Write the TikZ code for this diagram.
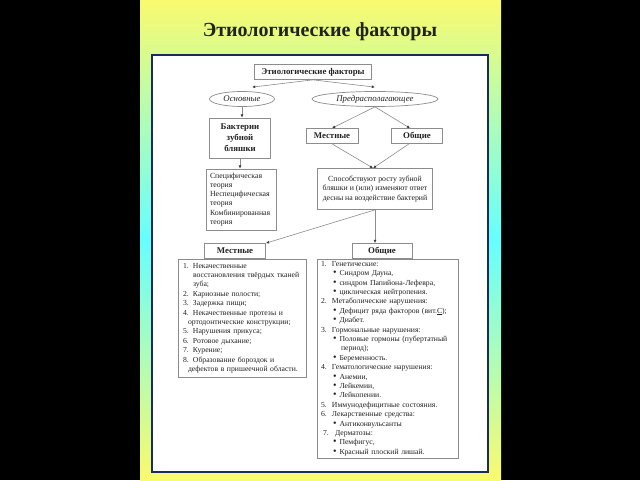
\documentclass[tikz,border=0pt]{standalone}
\usepackage{fontspec}
\setmainfont{Liberation Serif}
\definecolor{FrameNavy}{HTML}{1C2B5E}
\definecolor{PanelYellow}{HTML}{FAFA6E}
\definecolor{PanelCyan}{HTML}{66FFFF}
\definecolor{BoxGray}{HTML}{8C8C8C}
\definecolor{TipGray}{HTML}{3A3A3A}
\definecolor{InkGray}{HTML}{222222}
\usetikzlibrary{arrows.meta, shapes.geometric}
\newcommand{\numitem}[3][10pt]{\makebox[#1][l]{#2}#3}
\newcommand{\numcont}[2][10pt]{\hspace*{#1}#2}
\newcommand{\bulitem}[1]{\hspace*{12pt}\makebox[6.5pt][l]{\fontsize{10}{9.4}\selectfont\textbullet}#1}
\tikzset{
  box/.style={draw=BoxGray, line width=0.7pt, fill=white, text=InkGray, align=center, inner sep=1pt, font=\fontsize{8.8}{11}\selectfont\bfseries},
  ovalbox/.style={ellipse, draw=BoxGray, line width=0.7pt, fill=white, text=InkGray, inner sep=0pt, font=\fontsize{8.8}{10}\selectfont\itshape},
  textbox/.style={draw=BoxGray, line width=0.7pt, fill=white, text=InkGray, inner sep=1pt, font=\fontsize{7.8}{9.1}\selectfont},
  listbox/.style={draw=BoxGray, line width=0.7pt, fill=white, text=InkGray, align=left, inner ysep=1pt, font=\fontsize{7.7}{9.4}\selectfont},
  arrow/.style={-{Latex[length=3.2pt, width=2.8pt, color=TipGray]}, line width=0.6pt, draw=BoxGray}
}

\begin{document}
\begin{tikzpicture}[x=1pt, y=1pt]
\useasboundingbox (0,0) rectangle (640,480);
\fill[black] (0,0) rectangle (640,480);
\shade[top color=PanelYellow, bottom color=PanelYellow, middle color=PanelCyan] (140,0) rectangle (501,480);
\node[font=\fontsize{20}{24}\selectfont\bfseries, text=InkGray] (title) at (320,448) {Этиологические факторы};
\draw[draw=FrameNavy, line width=2.6pt, fill=white] (152,8) rectangle (488,425);

\node[box, minimum width=117pt, minimum height=15pt] (etio) at (313,408) {Этиологические факторы};
\node[ovalbox, minimum width=65pt, minimum height=15pt] (osn) at (242,381) {Основные};
\node[ovalbox, minimum width=126pt, minimum height=15pt] (pred) at (375,381) {Предрасполагающее};
\node[box, minimum width=61pt, minimum height=40pt] (bact) at (240,342) {Бактерии\\зубной\\бляшки};
\node[box, minimum width=52pt, minimum height=15pt] (mest) at (332,344) {Местные};
\node[box, minimum width=51pt, minimum height=15pt] (obsh) at (417,344) {Общие};
\node[textbox, minimum width=115pt, minimum height=41pt, align=center] (spos) at (375,291)
  {Способствуют росту зубной\\бляшки и (или) изменяют ответ\\десны на воздействие бактерий};
\node[textbox, text width=62pt, minimum height=61pt, inner xsep=4pt, align=left] (teor) at (241,280.5)
  {Специфическая\\теория\\Неспецифическая\\теория\\Комбинированная\\теория};
\node[box, minimum width=61pt, minimum height=15pt] (mestl) at (235,229) {Местные};
\node[box, minimum width=60pt, minimum height=15pt] (obshl) at (382,229) {Общие};

\node[listbox, text width=118pt, inner xsep=5pt, minimum height=118pt] (mestlist) at (242,162) {%
\numitem{1.}{Некачественные}\\
\numcont{восстановления твёрдых тканей}\\
\numcont{зуба;}\\
\numitem{2.}{Кариозные полости;}\\
\numitem{3.}{Задержка пищи;}\\
\numitem{4.}{Некачественные протезы и}\\
\numcont[5pt]{ортодонтические конструкции;}\\
\numitem{5.}{Нарушения прикуса;}\\
\numitem{6.}{Ротовое дыхание;}\\
\numitem{7.}{Курение;}\\
\numitem{8.}{Образование бороздок и}\\
\numcont[5pt]{дефектов в пришеечной области.}};

\node[listbox, text width=133pt, inner xsep=4pt, minimum height=199pt] (obshlist) at (387.5,121.5) {%
\numitem[11pt]{1.}{Генетические:}\\
\bulitem{Синдром Дауна,}\\
\bulitem{синдром Папийона-Лефевра,}\\
\bulitem{циклическая нейтропения.}\\
\numitem[11pt]{2.}{Метаболические нарушения:}\\
\bulitem{Дефицит ряда факторов (вит.\underline{С});}\\
\bulitem{Диабет.}\\
\numitem[11pt]{3.}{Гормональные нарушения:}\\
\bulitem{Половые гормоны (пубертатный}\\
\numcont[20pt]{период);}\\
\bulitem{Беременность.}\\
\numitem[11pt]{4.}{Гематологические нарушения:}\\
\bulitem{Анемии,}\\
\bulitem{Лейкемии,}\\
\bulitem{Лейкопении.}\\
\numitem[11pt]{5.}{Иммунодефицитные состояния.}\\
\numitem[11pt]{6.}{Лекарственные средства:}\\
\bulitem{Антиконвульсанты}\\
\hspace*{2pt}\numitem[12pt]{7.}{Дерматозы:}\\
\bulitem{Пемфигус,}\\
\bulitem{Красный плоский лишай.}};

\draw[arrow] (etio.south) -- ([xshift=10pt, yshift=4pt]osn.north);
\draw[arrow] (etio.south) -- ([yshift=4pt]pred.north);
\draw[arrow] (osn.south) -- (osn.south |- bact.north);
\draw[arrow] (pred.south) -- (mest.north);
\draw[arrow] (pred.south) -- ([xshift=-7pt]obsh.north);
\draw[arrow] (mest.south) -- ([xshift=-2pt]spos.north);
\draw[arrow] ([xshift=-8pt]obsh.south) -- ([xshift=-2pt]spos.north);
\draw[arrow] (bact.south) -- (bact.south |- teor.north);
\draw[arrow] (spos.south) -- (mestl.north east);
\draw[arrow] (spos.south) -- (spos.south |- obshl.north);
\end{tikzpicture}
\end{document}
